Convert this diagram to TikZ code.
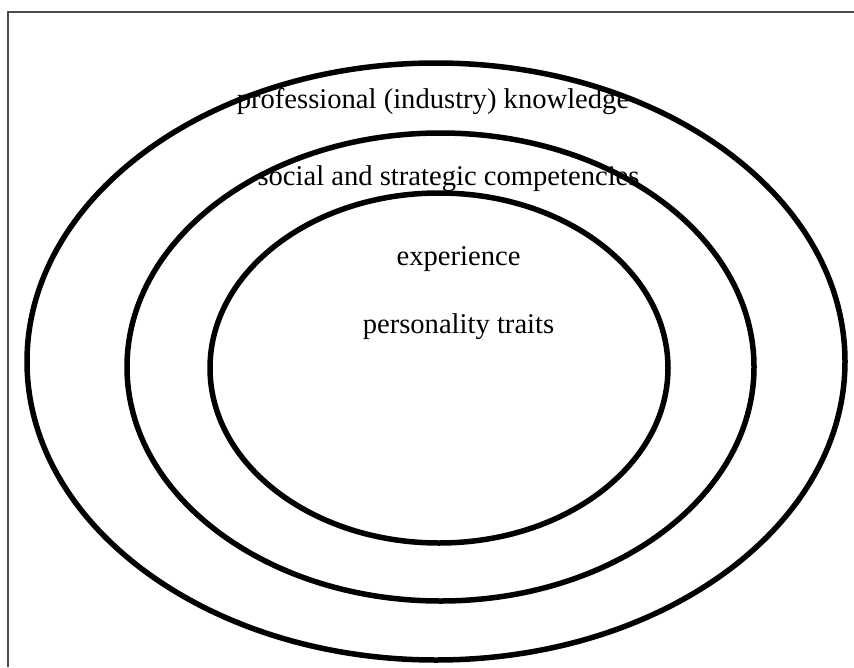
\documentclass[tikz,border=0pt]{standalone}
\usepackage{fontspec}
\setmainfont{Liberation Serif}
\begin{document}
\begin{tikzpicture}[x=1pt,y=-1pt,
  ring/.style={line width=5.5pt,draw=black},
  lbl/.style={anchor=base,inner sep=0pt,font=\fontsize{28.6}{32}\selectfont},
  frameline/.style={line width=2pt,draw=black!70}]
\useasboundingbox (0,0) rectangle (854,667);
\coordinate (tl) at (7.5,11.5);
\coordinate (tr) at (854,11.5);
\coordinate (bl) at (7.5,667);
\draw[frameline] (bl) -- (tl) -- (tr);
\node[lbl] (prof) at (433,108) {professional (industry) knowledge};
\node[lbl] (soc) at (448.5,185) {social and strategic competencies};
\node[lbl] (exp) at (458.5,265) {experience};
\node[lbl] (pers) at (458.5,333) {personality traits};
\draw[ring] (436,361.5) ellipse [x radius=409, y radius=298.5];
\draw[ring] (440.5,367) ellipse [x radius=313.5, y radius=234];
\draw[ring] (439,368) ellipse [x radius=229, y radius=175];
\end{tikzpicture}
\end{document}
